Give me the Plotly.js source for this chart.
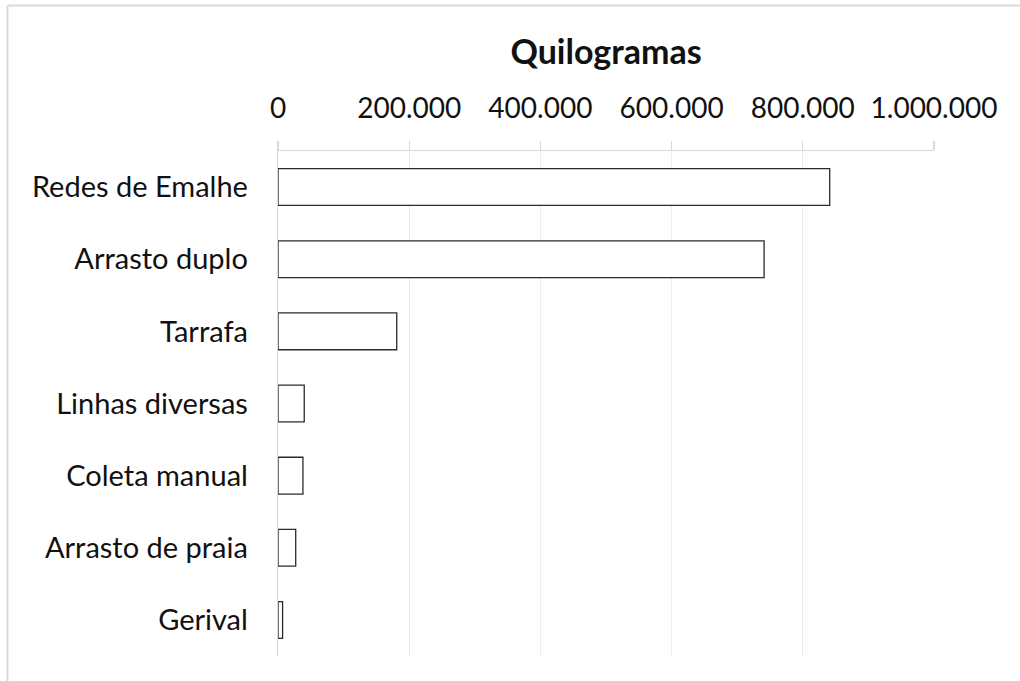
<!DOCTYPE html>
<html>
<head>
<meta charset="utf-8">
<script src="https://cdn.plot.ly/plotly-3.0.1.min.js"></script>
<style>
html,body{margin:0;padding:0;background:#fff;}
#chart{width:1020px;height:681px;}
</style>
</head>
<body>
<div id="chart"></div>
<script>
const categories = ["Redes de Emalhe","Arrasto duplo","Tarrafa","Linhas diversas","Coleta manual","Arrasto de praia","Gerival"];
const values = [841000, 741000, 181000, 40000, 38000, 27000, 7000];
const tickVals = [0, 200000, 400000, 600000, 800000, 1000000];
const tickText = ["0","200.000","400.000","600.000","800.000","1.000.000"];
const chartTitle = "Quilogramas";

const W = 1020, H = 681;
const m = {l: 278, r: 86, t: 151, b: 25};
const pw = W - m.l - m.r, ph = H - m.t - m.b;
const px = v => (v - m.l) / pw;
const py = v => (H - m.b - v) / ph;
const font = "Lato, 'Open Sans', sans-serif";

const trace = {
  type: 'bar',
  orientation: 'h',
  x: values,
  y: categories,
  marker: {color: '#ffffff', line: {color: '#2b2b2b', width: 1.3}},
  hoverinfo: 'none'
};

const layout = {
  width: W, height: H,
  margin: m,
  paper_bgcolor: '#ffffff',
  plot_bgcolor: '#ffffff',
  showlegend: false,
  bargap: 0.49,
  font: {family: font, color: '#111', size: 28},
  title: {
    text: '<b>' + chartTitle + '</b>',
    font: {family: font, size: 34, color: '#111'},
    x: 0.5, xref: 'paper', xanchor: 'center',
    y: 1 - 52 / H, yref: 'container', yanchor: 'middle'
  },
  xaxis: {
    side: 'top',
    range: [0, 1000000],
    tickvals: tickVals,
    ticktext: tickText,
    ticks: 'outside', ticklen: 9, tickcolor: '#d9d9d9', tickwidth: 1.3,
    showline: true, linecolor: '#d9d9d9', linewidth: 1.3,
    showgrid: true, gridcolor: '#ececec', gridwidth: 1.3,
    zeroline: false,
    ticklabelstandoff: 12,
    tickfont: {family: font, size: 28, color: '#111'},
    fixedrange: true
  },
  yaxis: {
    type: 'category',
    autorange: 'reversed',
    showline: true, linecolor: '#d9d9d9', linewidth: 1.3,
    showgrid: false, zeroline: false,
    ticks: '',
    ticklabelstandoff: 23,
    tickfont: {family: font, size: 29, color: '#111'},
    fixedrange: true
  },
  shapes: [
    {type: 'line', xref: 'paper', yref: 'paper', x0: px(7.5), x1: px(1030), y0: py(5.5), y1: py(5.5), line: {color: '#d9d9d9', width: 2}},
    {type: 'line', xref: 'paper', yref: 'paper', x0: px(7.5), x1: px(7.5), y0: py(5.5), y1: py(700), line: {color: '#d9d9d9', width: 2}}
  ]
};

Plotly.newPlot('chart', [trace], layout, {displayModeBar: false, staticPlot: true});
</script>
</body>
</html>
